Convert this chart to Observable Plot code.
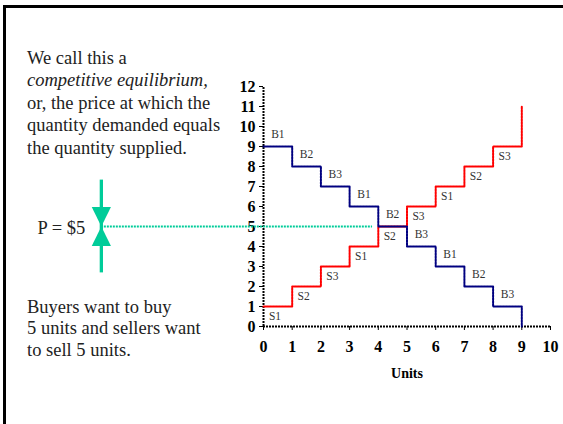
<!DOCTYPE html>
<html>
<head>
<meta charset="utf-8">
<script src="https://cdn.jsdelivr.net/npm/d3@7"></script>
<script src="https://cdn.jsdelivr.net/npm/@observablehq/plot@0.6"></script>
<style>
  html, body { margin: 0; padding: 0; background: #fff; overflow: hidden; }
  #wrap { position: relative; width: 563px; height: 424px; overflow: hidden; background: #fff; }
  #topline { position: absolute; left: 3px; top: 5px; width: 560px; height: 3px; background: #000; }
  #leftline { position: absolute; left: 3px; top: 5px; width: 3px; height: 419px; background: #000; }
  .para { position: absolute; left: 27px; font-family: "Liberation Serif", serif;
          font-size: 18.5px; line-height: 22.4px; color: #222; white-space: nowrap; }
  #chart { position: absolute; left: 0; top: 0; width: 563px; height: 424px; }
  #chart svg { display: block; }
</style>
</head>
<body>
<div id="wrap">
  <div id="chart"></div>
  <div id="topline"></div>
  <div id="leftline"></div>
  <div class="para" id="intro" style="top:47px">We call this a<br><i>competitive equilibrium,</i><br>or, the price at which the<br>quantity demanded equals<br>the quantity supplied.</div>
  <div class="para" id="outro" style="top:296.5px; line-height:21.9px">Buyers want to buy<br>5 units and sellers want<br>to sell 5 units.</div>
</div>
<script>
// ---- data ----
const units = [0, 1, 2, 3, 4, 5, 6, 7, 8, 9];
const demandPrice = [9, 8, 7, 6, 5, 4, 3, 2, 1, 0];
const supplyPrice = [1, 2, 3, 4, 5, 6, 7, 8, 9, 11];
const buyerLabels = ["B1", "B2", "B3", "B1", "B2", "B3", "B1", "B2", "B3"];
const sellerLabels = ["S1", "S2", "S3", "S1", "S2", "S3", "S1", "S2", "S3"];
const xTicks = [0, 1, 2, 3, 4, 5, 6, 7, 8, 9, 10];
const yTicks = [0, 1, 2, 3, 4, 5, 6, 7, 8, 9, 10, 11, 12];
const eqPrice = 5;
const priceLabel = "P = $5";
const axisLabel = "Units";

// annotation anchors (data units)
const arrowX = -5.65;
const guideEnd = 3.8;
const stemHalf = 2.32;

const demand = units.map((u, i) => ({u, p: demandPrice[i]}));
const supply = units.map((u, i) => ({u, p: supplyPrice[i]}));
const bLabels = buyerLabels.map((t, i) => ({u: i + 0.5, p: demandPrice[i], t}));
const sLabels = sellerLabels.map((t, i) => ({u: i + 0.4, p: supplyPrice[i], t}));

const green = "#00cc99";
const downTri = {draw(ctx) { ctx.moveTo(-9.6, -19.5); ctx.lineTo(9.6, -19.5); ctx.lineTo(0, 0); ctx.closePath(); }};
const upTri = {draw(ctx) { ctx.moveTo(-9.6, 19.5); ctx.lineTo(9.6, 19.5); ctx.lineTo(0, 0); ctx.closePath(); }};

const chart = Plot.plot({
  width: 563,
  height: 424,
  marginLeft: 263,
  marginRight: 13,
  marginTop: 86,
  marginBottom: 98,
  x: {domain: [0, 10]},
  y: {domain: [0, 12]},
  style: {fontFamily: "Liberation Serif, serif", background: "transparent", overflow: "visible", color: "#000"},
  marks: [
    Plot.axisX({ticks: xTicks, tickSize: 4, tickPadding: 10, fontSize: 16, fontWeight: "bold", label: null, tickFormat: d => String(d)}),
    Plot.axisY({ticks: yTicks, tickSize: 4, tickPadding: 4, fontSize: 16, fontWeight: "bold", label: null, tickFormat: d => String(d)}),
    Plot.ruleX([0], {y1: 0, y2: 12, stroke: "#000", strokeWidth: 2, strokeDasharray: "2,1"}),
    Plot.ruleY([0], {x1: 0, x2: 10, stroke: "#000", strokeWidth: 2, strokeDasharray: "2,1"}),
    Plot.text([axisLabel], {x: 5, y: 0, dy: 47, text: d => d, fontSize: 14, fontWeight: "bold", fill: "#000"}),
    // equilibrium guide
    Plot.ruleY([eqPrice], {x1: arrowX, x2: guideEnd, stroke: green, strokeWidth: 2, strokeDasharray: "2,1"}),
    Plot.ruleX([arrowX], {y1: eqPrice - stemHalf, y2: eqPrice + stemHalf, stroke: green, strokeWidth: 3.3}),
    Plot.dot([eqPrice], {x: arrowX, y: d => d, symbol: downTri, fill: green, stroke: null}),
    Plot.dot([eqPrice], {x: arrowX, y: d => d, symbol: upTri, fill: green, stroke: null}),
    Plot.text([priceLabel], {x: arrowX, y: eqPrice, text: d => d, dx: -16, dy: 2, textAnchor: "end", fontSize: 18.5, fill: "#222"}),
    // supply and demand steps
    Plot.line(supply, {x: "u", y: "p", curve: "step-after", stroke: "#ff0000", strokeWidth: 2, strokeDasharray: "2,1"}),
    Plot.line(demand, {x: "u", y: "p", curve: "step-after", stroke: "#000080", strokeWidth: 2, strokeDasharray: "2,1"}),
    Plot.text(bLabels, {x: "u", y: "p", text: "t", dy: -12, fontSize: 11.5, fill: "#333"}),
    Plot.text(sLabels, {x: "u", y: "p", text: "t", dy: 10, fontSize: 11.5, fill: "#333"})
  ]
});
document.getElementById("chart").appendChild(chart);
</script>
</body>
</html>
